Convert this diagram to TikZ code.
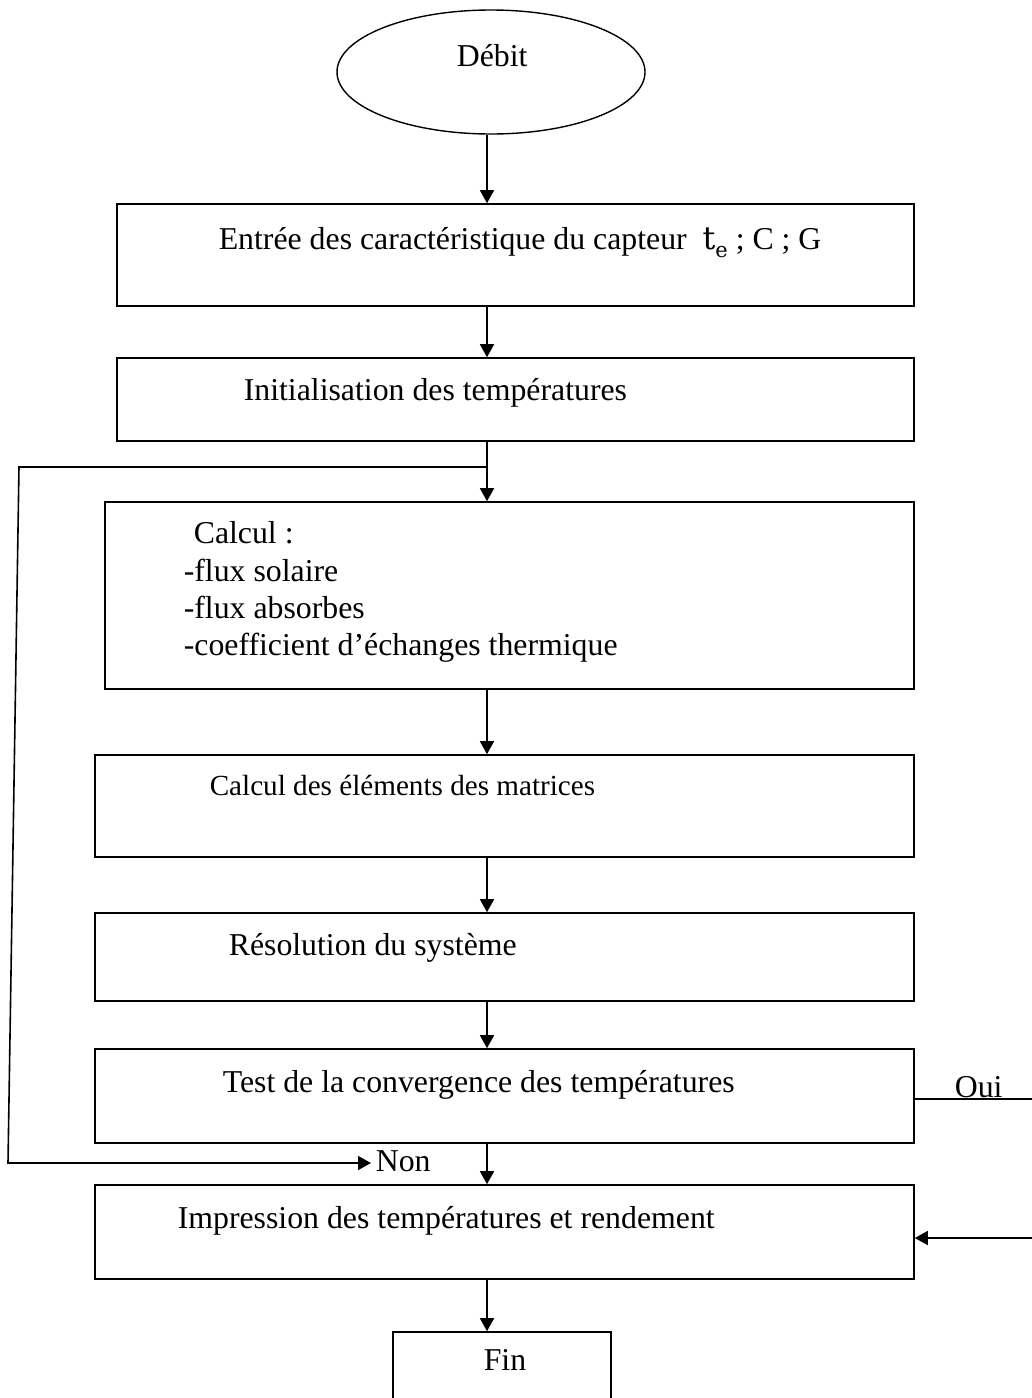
\documentclass[tikz,border=0pt]{standalone}
\usepackage{fontspec}
\setmainfont{Liberation Serif}
\newfontfamily\mathlike{DejaVu Serif}
\usetikzlibrary{shapes.geometric,arrows.meta,calc}
\begin{document}
\begin{tikzpicture}[x=1pt,y=-1pt,
  line width=1.6pt,
  box/.style={draw, rectangle, inner sep=0pt, line width=1.6pt},
  txt/.style={anchor=base west, inner sep=0pt, font=\fontsize{31.8}{37.5}\selectfont},
  smalltxt/.style={anchor=base west, inner sep=0pt, font=\fontsize{29.15}{34}\selectfont},
  arr/.style={-{Triangle[length=13pt,width=14pt]}, line width=1.6pt}]
\useasboundingbox (0,0) rectangle (1032,1398);
\fill[white] (0,0) rectangle (1032,1398);

% shapes
\node[draw, ellipse, line width=1.4pt, inner sep=0pt, minimum width=308pt, minimum height=124pt] (e) at (491,72) {};
\node[box, minimum width=797pt, minimum height=102pt] (b1) at (515.5,255) {};
\node[box, minimum width=797pt, minimum height=83pt] (b2) at (515.5,399.5) {};
\node[box, minimum width=809pt, minimum height=187pt] (b3) at (509.5,595.5) {};
\node[box, minimum width=819pt, minimum height=102pt] (b4) at (504.5,806) {};
\node[box, minimum width=819pt, minimum height=88pt] (b5) at (504.5,957) {};
\node[box, minimum width=819pt, minimum height=94pt] (b6) at (504.5,1096) {};
\node[box, minimum width=819pt, minimum height=94pt] (b7) at (504.5,1232) {};
\begin{scope}
\clip (0,0) rectangle (1032,1398);
\node[box, minimum width=218pt, minimum height=88pt] (fin) at (502,1376) {};
\end{scope}

% texts
\node[txt] (tdebit) at (456,66) {Débit};
\node[txt] (t1) at (218,249) {Entrée des caractéristique du capteur\ \ {\mathlike t\raisebox{-0.28em}{\fontsize{21}{21}\selectfont e}} ; C ; G};
\node[txt] (t2) at (243,400) {Initialisation des températures};
\node[txt] (t3a) at (193,543) {Calcul :};
\node[txt] (t3b) at (183,581) {-flux solaire};
\node[txt] (t3c) at (183,618) {-flux absorbes};
\node[txt] (t3d) at (183,655) {-coefficient d’échanges thermique};
\node[smalltxt] (t4) at (209,795) {Calcul des éléments des matrices};
\node[txt] (t5) at (228,955) {Résolution du système};
\node[txt] (t6) at (222,1092) {Test de la convergence des températures};
\node[txt] (t7) at (177,1228) {Impression des températures et rendement};
\node[txt] (tfin) at (483,1370) {Fin};
\node[txt] (oui) at (954,1097) {Oui};
\node[txt] (non) at (375,1171) {Non};

% connectors
\coordinate (cx) at (487,0);
\draw[arr] (e.south -| cx) -- (b1.north -| cx);
\draw[arr] (b1.south -| cx) -- (b2.north -| cx);
\draw[arr] (b2.south -| cx) -- (b3.north -| cx);
\draw[arr] (b3.south -| cx) -- (b4.north -| cx);
\draw[arr] (b4.south -| cx) -- (b5.north -| cx);
\draw[arr] (b5.south -| cx) -- (b6.north -| cx);
\draw[arr] (b6.south -| cx) -- (b7.north -| cx);
\draw[arr] (b7.south -| cx) -- (fin.north -| cx);

% loop back (Non)
\coordinate (j) at (487,467);
\coordinate (lt) at (19,467);
\coordinate (lb) at (8,1163);
\draw[arr] (j) -- (lt) -- (lb) -- ($(lb -| non.west)+(-4,0)$);

% Oui branch
\coordinate (ouiend) at (1032,1099);
\draw (ouiend -| b6.east) -- (ouiend);
\coordinate (rin) at (1032,1238);
\draw[arr] (rin) -- (rin -| b7.east);
\end{tikzpicture}
\end{document}
